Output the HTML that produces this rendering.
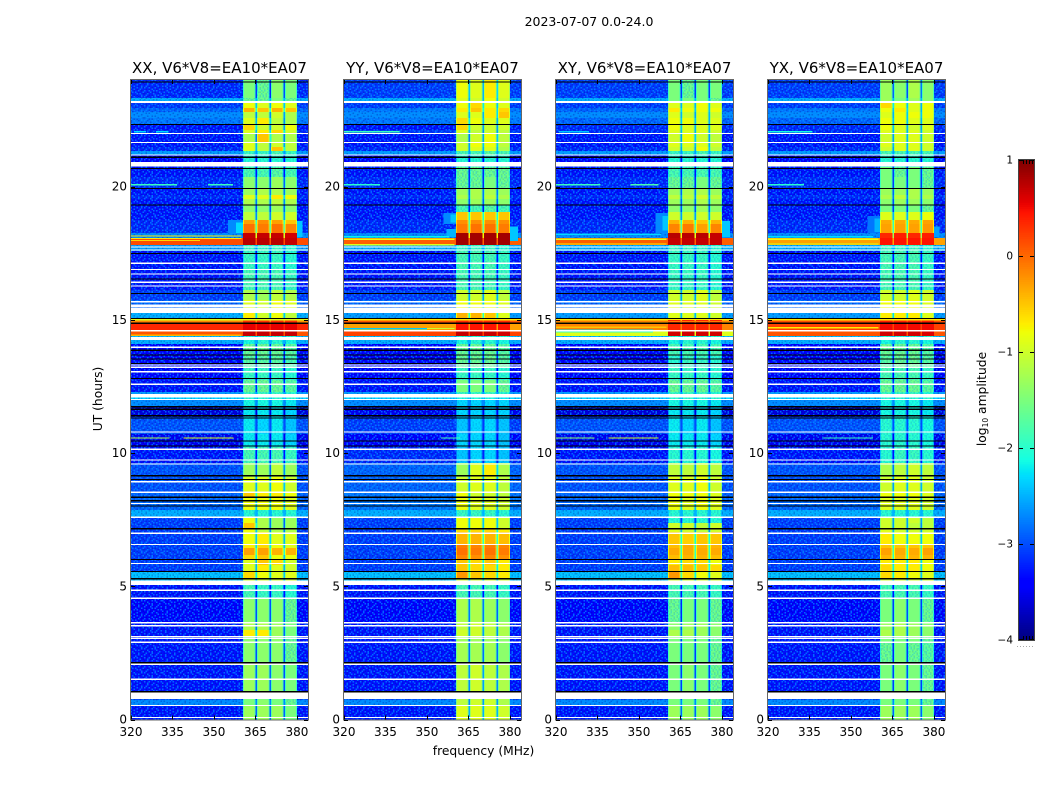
<!DOCTYPE html>
<html lang="en">
<head>
<meta charset="utf-8">
<title>2023-07-07 0.0-24.0 dynamic spectra</title>
<style>
html,body{margin:0;padding:0;background:#fff;width:1050px;height:800px;overflow:hidden}
svg{display:block}
text{font-family:"DejaVu Sans","Liberation Sans",sans-serif;fill:#000}
</style>
</head>
<body>
<svg id="figure" xmlns="http://www.w3.org/2000/svg" width="1050" height="800" viewBox="0 0 1050 800">
  <rect x="0" y="0" width="1050" height="800" fill="#fff"/>
  <defs id="defs"></defs>
  <text x="589" y="26" font-size="12.5" text-anchor="middle">2023-07-07 0.0-24.0</text>
  <text transform="translate(102,399) rotate(-90)" font-size="12.3" text-anchor="middle">UT (hours)</text>
  <text x="483.500" y="755" font-size="12.3" text-anchor="middle">frequency (MHz)</text>
  <text transform="translate(986,399) rotate(-90)" font-size="12.3" text-anchor="middle">log<tspan font-size="7.500" dy="2">10</tspan><tspan dy="-2"> amplitude</tspan></text>
  <g id="panels"></g>
  <g id="colorbar"></g>
</svg>
<script>
// ---- axis data ----
const panelTitles = ["XX, V6*V8=EA10*EA07","YY, V6*V8=EA10*EA07","XY, V6*V8=EA10*EA07","YX, V6*V8=EA10*EA07"];
const xTickValues = [320,335,350,365,380];
const yTickValues = [0,5,10,15,20];
const colorTickValues = [1,0,-1,-2,-3,-4];
// frequency span of each spectral window (MHz)
const channelRanges = [[360.5,364.95],[365.55,370],[370.6,375.05],[375.65,380]];
// time boundaries of the bands (hours, top to bottom)
const bandEdges = [24,23.32,23.13,22.95,22.80,22.57,22.35,22.12,22.01,21.67,
21.48,21.33,21.18,20.92,20.73,20.36,19.94,19.68,19.53,19.31,
19.04,18.74,18.59,18.25,18.07,17.80,17.58,16.87,16.12,15.74,
15.44,15.25,15.07,14.88,14.62,14.39,14.24,14.09,13.64,13.23,
12.74,12.29,12.10,11.99,11.73,11.35,10.71,10.23,9.62,9.10,
8.54,8.31,7.86,7.56,7.37,7.19,7.04,6.59,6.44,6.17,
6.02,5.80,5.53,5.31,5.05,4.56,3.62,3.36,3.10,2.87,
2.12,1.03,0.73,0.51,0];
// flagged (no-data) times shared by all polarisations, hours
const whiteLines = [21.99,21.66,21.18,17.73,17.62,17.12,16.89,16.72,16.41,16.27,15.68,15.55,15.49,14.59,13.97,13.30,13.22,13.05,12.58,12.01,10.79,10.14,9.74,9.59,8.92,8.53,8.11,7.59,6.99,6.57,5.86,4.85,4.55,3.63,3.52,3.11,3.05,2.90,2.07,1.51,0.53,0.08];
const whiteGaps = [[23.13,23.21],[20.75,20.93],[15.26,15.45],[14.24,14.36],[12.09,12.21],[5.05,5.21],[0.77,1.01]];
const blackLines = [23.93,22.33,21.10,20.68,19.93,19.31,17.49,16.53,15.99,15.05,14.87,13.86,13.68,13.53,13.36,12.80,11.74,11.64,11.40,11.31,10.45,10.27,9.15,9.01,8.34,8.21,8.01,7.16,6.01,5.56,5.28,2.13,1.04];
// log10 amplitude per band: [off-band, window1, window2, window3, window4]
const xxRows = [
[-3.2,-1.5,-1.6,-1.4,-1.5],[-2.5,-1.6,-1.6,-1.5,-1.6],[-3.1,-.8,-.9,-.8,-.9],[-2.9,-.4,-.5,-.4,-.5],[-2.7,-1.1,-1.1,-1,-1.2],
[-2.8,-.9,-.7,-1.1,-1.2],[-3.3,-.6,-1,-1,-.8],[-3.2,-.9,-.7,-.6,-1],[-3.3,-1.2,-.5,-1.2,-1.2],[-3.3,-.9,-1.1,-1,-1.1],
[-3.2,-.9,-1.1,-.5,-1.1],[-2.6,-1.9,-1.9,-1.8,-1.9],[-3.4,-2,-2,-2,-2],[-3.2,-2,-2,-2,-2],[-3.3,-1.8,-1.8,-1.7,-1.8],
[-3.2,-1.4,-1.4,-1.3,-1.4],[-3.3,-1.3,-1.2,-1.2,-1.3],[-3.2,-.9,-.9,-.7,-.8],[-3.3,-1.2,-1.2,-1.1,-1.2],[-3.3,-1.4,-1.4,-1.3,-1.4],
[-3.3,-1.1,-1.1,-1,-1],[-3.2,-.3,-.2,-.3,-.5],[-3.2,-.05,-.1,-.05,-.15],[-2.7,.7,.7,.7,.65],[.15,.75,.75,.75,.7],
[-2.6,-1.9,-1.9,-1.9,-2],[-3.3,-1.9,-1.9,-1.9,-2],[-3.3,-1.8,-1.8,-1.8,-1.9],[-3.1,-1.2,-1.3,-1.1,-1.2],[-2.9,-.9,-1,-.8,-.9],
[-2.9,-.9,-1,-.8,-.9],[-2.5,-.7,-1,-.8,-1.1],[-.2,.3,.3,.3,.3],[.35,.55,.55,.55,.55],[.1,.7,.7,.7,.7],
[-2.4,-2,-2,-2,-2],[-2.5,-2.1,-2,-2,-2.1],[-3.4,-1.6,-1.6,-1.6,-1.7],[-3.4,-1.7,-1.7,-1.7,-1.8],[-3.4,-1.9,-1.9,-1.9,-2],
[-3.3,-1.6,-1.6,-1.6,-1.7],[-2.6,-1.9,-1.9,-1.9,-2],[-2.3,-2,-2,-2,-2],[-2.7,-2.1,-2.1,-2.1,-2.2],[-3.6,-2.2,-2.2,-2.2,-2.3],
[-3,-2.2,-2.3,-2.2,-2.4],[-3.5,-2.2,-2.2,-2.2,-2.3],[-3.3,-1.8,-1.8,-1.8,-1.9],[-3,-1.3,-1.3,-1.1,-1.3],[-3,-.9,-.9,-.8,-1],
[-2.9,-.5,-.7,-.7,-.8],[-2.9,-.8,-.8,-.8,-.9],[-2.5,-2,-2,-2,-2],[-3.1,-.8,-1.2,-1.3,-1.3],[-3.1,-.5,-1.2,-1.3,-1.3],
[-3.1,-.8,-1.1,-1.2,-1.2],[-3.1,-.8,-.7,-.9,-.9],[-3.1,-.7,-.6,-.8,-.9],[-3.1,-.3,-.3,-.4,-.4],[-3.1,-.6,-.5,-.8,-.8],
[-3.1,-.9,-.5,-.6,-1],[-3.1,-.9,-.7,-.9,-1],[-2.4,-.6,-.8,-.9,-.9],[-2.4,-1,-1,-1,-1],[-3.3,-1.8,-1.9,-1.9,-2],
[-3.4,-1.4,-1.4,-1.4,-1.6],[-3.3,-1.2,-1.2,-1.3,-1.5],[-3.3,-.7,-.7,-1.3,-1.5],[-3.3,-1.4,-1.4,-1.4,-1.6],[-3.3,-1.4,-1.4,-1.4,-1.6],
[-3.3,-1.3,-1.3,-1.4,-1.5],[-3,-1.5,-1.5,-1.5,-1.6],[-2.7,-1.5,-1.4,-1.5,-1.6],[-3.3,-1.3,-1.3,-1.3,-1.5]];
const yyRows = [
[-3.1,-.8,-.9,-.7,-.9],[-2.5,-.9,-1,-.8,-1],[-3.1,-.8,-.6,-.8,-.9],[-2.8,-.7,-.5,-.7,-.6],[-2.7,-.9,-.9,-.7,-.5],
[-2.8,-.6,-.8,-.9,-.9],[-3.3,-.6,-1,-1,-1],[-3.1,-.9,-1.1,-1,-1.1],[-3.3,-1.2,-1,-.8,-1.1],[-3.3,-1,-.8,-.8,-1.1],
[-3.2,-1,-.9,-.9,-1.2],[-2.6,-1.8,-1.8,-1.7,-1.8],[-3.4,-2,-2,-2,-2],[-3.2,-2,-2,-2,-2],[-3.3,-1.6,-1.6,-1.6,-1.6],
[-3.2,-1.6,-1.6,-1.5,-1.6],[-3.3,-1.3,-1.2,-1.2,-1.3],[-3.2,-1.2,-1.2,-1.1,-1.2],[-3.3,-1.4,-1.3,-1.3,-1.4],[-3.3,-1.8,-1.8,-1.7,-1.8],
[-3.3,-.5,-.5,-.5,-.5],[-3.2,-.2,-.2,-.2,-.2],[-3.2,-.1,-.05,-.05,-.1],[-2.7,.85,.85,.85,.85],[.05,.85,.85,.85,.85],
[-2.5,-1.9,-1.9,-1.9,-2],[-3.3,-1.8,-1.8,-1.8,-1.9],[-3.3,-1.8,-1.8,-1.8,-1.9],[-3.1,-1,-1,-.9,-1.1],[-2.9,-.8,-.8,-.8,-.9],
[-2.9,-.8,-.8,-.8,-.9],[-2.6,-.4,-.4,-.5,-.9],[.1,.35,.35,.35,.35],[-.3,.45,.45,.45,.45],[.2,.7,.7,.7,.65],
[-2.4,-2,-2,-2,-2],[-2.5,-2.1,-2,-2,-2.1],[-3.4,-1.6,-1.6,-1.6,-1.7],[-3.4,-1.6,-1.6,-1.6,-1.7],[-3.4,-1.9,-1.9,-1.9,-2],
[-3.3,-1.5,-1.5,-1.5,-1.6],[-2.6,-1.9,-1.9,-1.9,-2],[-2.3,-2.1,-2.1,-2.1,-2.2],[-2.7,-2.3,-2.3,-2.3,-2.3],[-3.5,-2.3,-2.3,-2.3,-2.3],
[-3.1,-2.4,-2.3,-2.3,-2.4],[-3.4,-2.3,-2.3,-2.3,-2.4],[-3.2,-2.4,-2.3,-2.3,-2.4],[-2.9,-1.3,-.9,-.7,-1.2],[-2.9,-1,-.9,-.9,-1.1],
[-2.8,-.8,-1,-1,-1.1],[-2.8,-.8,-.9,-.9,-1],[-2.5,-1.9,-1.9,-1.9,-2],[-3.1,-.8,-.8,-.8,-1],[-3.1,-.8,-.8,-.8,-1],
[-3.1,-.6,-.6,-.6,-.7],[-3.1,-.4,-.4,-.4,-.45],[-3.1,-.1,-.15,-.1,-.15],[-3.1,-.05,-.1,-.05,-.1],[-3.1,-.15,-.2,-.15,-.2],
[-3.1,-.5,-.6,-.5,-.7],[-3.1,-.5,-.6,-.6,-.7],[-2.4,-.25,-.5,-.6,-.7],[-2.4,-1,-1,-1,-1],[-3.3,-1.8,-1.8,-1.8,-1.9],
[-3.4,-1.2,-1.2,-1.3,-1.4],[-3.3,-1.1,-1,-1.1,-1.2],[-3.3,-1,-1,-1.1,-1.2],[-3.3,-1.3,-1.3,-1.3,-1.4],[-3.3,-1.25,-1.25,-1.25,-1.4],
[-3.3,-1.1,-1,-1.1,-1.2],[-3,-1.1,-1.1,-1.1,-1.2],[-2.7,-1.1,-1,-1,-1.2],[-3.3,-.9,-.9,-.9,-1]];
const xyRows = [
[-3.1,-1.5,-1.6,-1.5,-1.5],[-2.5,-1.5,-1.5,-1.5,-1.6],[-3.1,-.9,-.9,-.8,-.9],[-2.9,-.7,-.8,-.8,-.8],[-2.7,-.9,-1,-.9,-1],
[-2.9,-.8,-.8,-.9,-.9],[-3.2,-.8,-.9,-.9,-.9],[-3.2,-.9,-.9,-.9,-1],[-3.3,-1,-.8,-1,-1.1],[-3.3,-.9,-.9,-.9,-1],
[-3.2,-1,-1,-.8,-1.1],[-2.6,-1.9,-1.9,-1.8,-1.9],[-3.4,-2,-2,-2,-2],[-3.2,-2,-2,-2,-2],[-3.3,-1.8,-1.8,-1.8,-1.8],
[-3.2,-1.6,-1.6,-1.5,-1.6],[-3.3,-1.3,-1.2,-1.2,-1.3],[-3.2,-1.1,-1.1,-1,-1.1],[-3.3,-1.3,-1.3,-1.2,-1.3],[-3.3,-1.4,-1.4,-1.3,-1.4],
[-3.3,-1,-1,-1,-1],[-3.2,-.4,-.4,-.5,-.4],[-3.2,-.15,-.1,-.3,-.15],[-2.7,.75,.75,.75,.7],[.05,.7,.7,.7,.7],
[-2.5,-1.9,-1.9,-1.9,-2],[-3.3,-1.9,-1.9,-1.9,-2],[-3.3,-1.9,-1.9,-1.9,-2],[-3.1,-1,-1,-.9,-1.1],[-2.9,-.9,-.9,-.9,-1],
[-2.9,-.9,-.9,-.9,-1],[-2.6,-.9,-.9,-.9,-1],[-.4,.35,.35,.35,.35],[-.15,.35,.35,.35,.35],[-.9,.65,.65,.65,.65],
[-2.4,-2,-2,-2,-2],[-2.5,-2.1,-2,-2,-2.1],[-3.4,-1.8,-1.8,-1.8,-1.8],[-3.4,-2,-1.9,-1.9,-2],[-3.4,-1.9,-1.9,-1.9,-2],
[-3.3,-1.6,-1.6,-1.6,-1.7],[-2.6,-1.9,-1.9,-1.9,-2],[-2.3,-2,-2,-2,-2],[-2.7,-2.1,-2.1,-2.1,-2.2],[-3.6,-2.2,-2.2,-2.2,-2.3],
[-3,-2.2,-2.3,-2.2,-2.4],[-3.5,-2.2,-2.2,-2.2,-2.3],[-3.3,-2,-2,-2,-2.1],[-3,-1.1,-1.1,-1,-1.1],[-3,-.9,-.9,-.8,-1],
[-2.9,-.8,-.8,-.8,-.9],[-2.9,-.8,-.9,-.8,-.9],[-2.5,-2,-2,-2,-2],[-3.1,-2,-2,-2,-2],[-3.1,-1,-1,-1.1,-1],
[-3.1,-.9,-1,-1.1,-1],[-3.1,-.5,-.55,-.5,-.5],[-3.1,-.45,-.35,-.4,-.4],[-3.1,-.35,-.35,-.35,-.35],[-3.1,-.45,-.4,-.4,-.45],
[-3.1,-.7,-.6,-.6,-.8],[-3.1,-.45,-.45,-.5,-.6],[-2.4,-.25,-.6,-.8,-.9],[-2.4,-1,-1,-1,-1],[-3.3,-1.8,-1.8,-1.8,-1.9],
[-3.4,-1.6,-1.5,-1.5,-1.6],[-3.3,-1.4,-1.3,-1.3,-1.4],[-3.3,-1.2,-1.2,-1.3,-1.4],[-3.3,-1.5,-1.5,-1.5,-1.6],[-3.3,-1.5,-1.5,-1.5,-1.6],
[-3.3,-1.5,-1.4,-1.5,-1.6],[-3,-1.5,-1.5,-1.5,-1.6],[-2.7,-1.5,-1.5,-1.5,-1.6],[-3.3,-1.3,-1.3,-1.3,-1.4]];
const yxRows = [
[-3.1,-1.3,-1.4,-1.2,-1.4],[-2.5,-1.3,-1.5,-1.3,-1.4],[-3.1,-.6,-.8,-.9,-.8],[-2.8,-.8,-.7,-.9,-.8],[-2.7,-.9,-.8,-.8,-.8],
[-2.9,-.8,-.8,-.9,-.9],[-3.2,-.8,-.9,-1,-.9],[-3.2,-.9,-.9,-.9,-1],[-3.3,-1,-.9,-.9,-1],[-3.3,-.9,-.9,-.9,-1],
[-3.2,-1,-.9,-.9,-1],[-2.6,-1.8,-1.8,-1.8,-1.8],[-3.4,-2,-2,-2,-2],[-3.2,-2,-2,-2,-2],[-3.3,-1.5,-1.6,-1.5,-1.6],
[-3.2,-1.5,-1.5,-1.5,-1.6],[-3.3,-1.3,-1.3,-1.2,-1.3],[-3.2,-1.2,-1.1,-1.2,-1.2],[-3.3,-1.4,-1.3,-1.3,-1.4],[-3.3,-1.5,-1.5,-1.5,-1.6],
[-3.3,-.9,-.9,-.9,-.8],[-3.2,-.35,-.35,-.35,-.3],[-3.2,-.3,-.3,-.3,-.25],[-2.7,.35,.4,.35,.4],[-.3,.45,.45,.45,.45],
[-2.5,-1.9,-1.9,-1.9,-2],[-3.3,-1.8,-1.8,-1.8,-1.9],[-3.3,-1.8,-1.8,-1.8,-1.9],[-3.1,-1,-1,-.9,-1],[-2.9,-.8,-.8,-.8,-.9],
[-2.9,-.8,-.8,-.8,-.9],[-2.6,-.7,-.7,-.7,-.9],[.15,.4,.4,.4,.4],[.2,.5,.5,.5,.5],[.1,.65,.65,.65,.6],
[-2.4,-2,-2,-2,-2],[-2.5,-2.1,-2,-2,-2.1],[-3.4,-1.6,-1.6,-1.6,-1.7],[-3.4,-1.7,-1.6,-1.6,-1.7],[-3.4,-1.8,-1.8,-1.8,-1.9],
[-3.3,-1.6,-1.6,-1.6,-1.7],[-2.6,-1.9,-1.9,-1.9,-2],[-2.3,-2,-2,-2,-2],[-2.7,-2.1,-2.1,-2.1,-2.2],[-3.6,-2.1,-2.1,-2.1,-2.2],
[-3,-2,-2,-2,-2.1],[-3.5,-2,-2,-2,-2.1],[-3.3,-2,-1.9,-1.9,-2],[-3,-1.2,-1.1,-1,-1.1],[-3,-1,-.9,-.9,-1],
[-2.9,-.8,-.8,-.8,-.9],[-2.9,-.9,-.9,-.9,-1],[-2.5,-2,-2,-2,-2],[-3.1,-1,-1,-1,-1.1],[-3.1,-1,-1,-1.1,-1.1],
[-3.1,-.9,-1,-1,-1],[-3.1,-.7,-.8,-.8,-.8],[-3.1,-.5,-.5,-.5,-.5],[-3.1,-.3,-.35,-.35,-.3],[-3.1,-.4,-.4,-.4,-.4],
[-3.1,-.7,-.7,-.7,-.8],[-3.1,-.6,-.7,-.7,-.8],[-2.4,-.6,-.7,-.8,-.9],[-2.4,-1,-1,-1,-1],[-3.3,-1.8,-1.8,-1.8,-1.9],
[-3.4,-1.5,-1.4,-1.5,-1.6],[-3.3,-1.3,-1.2,-1.3,-1.4],[-3.3,-1.2,-1.2,-1.3,-1.4],[-3.3,-1.5,-1.5,-1.5,-1.6],[-3.3,-1.6,-1.5,-1.6,-1.7],
[-3.3,-1.5,-1.4,-1.5,-1.6],[-3,-1.5,-1.5,-1.5,-1.6],[-2.7,-1.5,-1.5,-1.5,-1.6],[-3.3,-1.3,-1.3,-1.3,-1.4]];
const panelRows = [xxRows,yyRows,xyRows,yxRows];
// narrow-band interference: [hour, fromMHz, toMHz, log10 amplitude]
const xxStripes = [[20.07,320,336.6,-1.9],[20.07,347.8,356.9,-1.9],[22.06,321,325.5,-2.3],[22.06,329,333.5,-2.3],[10.56,320,334,-1.2],[10.56,339,357,-.9],[18.15,320,360,-.7],[18.05,320,360,-.7],[17.98,320,345,-.6],[15.0,320,384,-.9],[14.92,320,360,-.1],[14.42,320,360,-.4]];
const yyStripes = [[20.07,320,333,-2],[22.06,320,340,-1.9],[10.56,355,362,-1.8],[18.12,320,358,-2.2],[18.02,320,360,-.8],[17.82,320,360,-.9],[15.0,320,384,-.7],[14.67,320,350,-2.4],[14.62,320,350,-2.1],[14.67,350,360,-1]];
const xyStripes = [[20.07,320,336,-1.9],[20.07,347,357,-1.8],[22.06,321,332,-2.4],[10.56,320,334,-1.4],[10.56,339,357,-1],[18.2,320,358,-2.3],[18.02,320,360,-.9],[17.84,320,360,-.7],[15.02,320,384,-.7],[14.94,320,384,-.1],[14.72,320,360,-.5],[14.62,320,355,-2.3],[14.55,320,355,-1.9]];
const yxStripes = [[20.07,320,333,-2],[22.06,320,336,-2.1],[10.56,340,358,-1.9],[18.12,320,358,-2.3],[18.02,320,360,-.8],[17.84,320,360,-.9],[15.0,320,384,-.7],[14.7,320,360,-.7]];
const panelStripes = [xxStripes,yyStripes,xyStripes,yxStripes];
// faint emission just outside the windows: [hour from, hour to, fromMHz, toMHz, log10 amplitude]
const xxGlow = [[18.25,18.75,355,360.5,-2.7],[18.25,18.65,358,360.5,-2.3],[18.1,18.7,380,382,-2.4]];
const yyGlow = [[18.6,19.0,356,360.5,-2.7],[18.65,18.95,358.5,360.5,-2.4],[18.1,18.4,357,360.5,-2.5],[17.95,18.5,380,383,-2.4]];
const xyGlow = [[18.25,19.0,356,360.5,-2.7],[18.35,18.9,358.5,360.5,-2.4],[18.1,18.7,380,383,-2.4]];
const yxGlow = [[18.25,18.9,356,360.5,-2.8],[18.3,18.8,358.5,360.5,-2.5],[18.1,18.5,380,382,-2.6]];
const panelGlow = [xxGlow,yyGlow,xyGlow,yxGlow];
// hand-laid pixel speckle tile: a = brighter pixel, b = darker pixel
const speckleTile = [
"a.b..a.a.b.aa..b.a..b.a.",
".ba.b...a..b.a.b..a.a.b.",
"b..a.ab.b.a...a.ab...b.a",
".a.b.a...a.b.b...a.ba..b",
"a..ba.b.a..a..ab.b..a.b.",
".b...a.a.b..b.a...a.b.a.",
"ab.a..b..a.a...b.a.a..b.",
"..a.b.a.b...ab.a..b..a.b",
"b.a..a..a.b.b..a.b.a.b..",
".a.b...b.a..a.a..a..b.a.",
"a..a.b.a..b..b.ab..a..ab",
".b.b.a..b.a.a....a.b.a..",
"a..a..a.a..b.b.a.b..a.b.",
"..b.ab.b..a..a..a.a.b..a",
"b.a...a..b.ab..b...a.a.b",
".a.b.b.a.a...a.a.b.b..a."];
// ---- layout ----
const panelLefts = [131,344,556,768];
const plotWidth = 177;
const plotTop = 80;
const plotBottom = 719.5;
const freqMin = 320, freqMax = 384, hourMin = 0, hourMax = 24;
const cbarLeft = 1019, cbarRight = 1034, cbarTop = 160, cbarBottom = 640;
const ns = "http://www.w3.org/2000/svg";

function xScale(p, f){ return panelLefts[p] + (f - freqMin) / (freqMax - freqMin) * plotWidth; }
function yScale(h){ return plotBottom - (h - hourMin) / (hourMax - hourMin) * (plotBottom - plotTop); }
function cbarY(v){ return cbarTop + (1 - v) / 5 * (cbarBottom - cbarTop); }
function interp(t, pts){
  for(let i = 1; i < pts.length; i++){
    if(t <= pts[i][0]){
      const a = pts[i-1], b = pts[i];
      return a[1] + (b[1]-a[1]) * (t-a[0]) / (b[0]-a[0]);
    }
  }
  return pts[pts.length-1][1];
}
function jet(v){
  const t = Math.max(0, Math.min(1, (v + 4) / 5));
  const r = interp(t, [[0,0],[.35,0],[.66,1],[.89,1],[1,.5]]);
  const g = interp(t, [[0,0],[.125,0],[.375,1],[.64,1],[.91,0],[1,0]]);
  const b = interp(t, [[0,.5],[.11,1],[.34,1],[.65,0],[1,0]]);
  return "rgb(" + Math.round(r*255) + "," + Math.round(g*255) + "," + Math.round(b*255) + ")";
}
function makeRect(parent, x, y, w, h, fill){
  const el = document.createElementNS(ns, "rect");
  el.setAttribute("x", x.toFixed(2));
  el.setAttribute("y", y.toFixed(2));
  el.setAttribute("width", Math.max(w, 0).toFixed(2));
  el.setAttribute("height", Math.max(h, 0).toFixed(2));
  el.setAttribute("fill", fill);
  parent.appendChild(el);
  return el;
}
function makeLine(parent, x1, y1, x2, y2, stroke){
  const el = document.createElementNS(ns, "line");
  el.setAttribute("x1", x1);
  el.setAttribute("y1", y1);
  el.setAttribute("x2", x2);
  el.setAttribute("y2", y2);
  el.setAttribute("stroke", stroke);
  el.setAttribute("stroke-width", "1");
  parent.appendChild(el);
  return el;
}
function makeText(parent, x, y, str, size, anchor){
  const el = document.createElementNS(ns, "text");
  el.setAttribute("x", x);
  el.setAttribute("y", y);
  el.setAttribute("font-size", size);
  el.setAttribute("text-anchor", anchor);
  el.textContent = str;
  parent.appendChild(el);
  return el;
}

// speckle pattern
(function(){
  const defs = document.getElementById("defs");
  const pat = document.createElementNS(ns, "pattern");
  pat.setAttribute("id", "speckle");
  pat.setAttribute("patternUnits", "userSpaceOnUse");
  const cw = 1.5, ch = 1.5;
  pat.setAttribute("width", speckleTile[0].length * cw);
  pat.setAttribute("height", speckleTile.length * ch);
  speckleTile.forEach(function(row, r){
    row.split("").forEach(function(c, k){
      if(c === ".") return;
      const cell = makeRect(pat, k*cw, r*ch, cw, ch, c === "a" ? "#0098ff" : "#000088");
      cell.setAttribute("fill-opacity", c === "a" ? "0.65" : "0.25");
    });
  });
  defs.appendChild(pat);
})();

function drawPanel(p){
  const root = document.getElementById("panels");
  const g = document.createElementNS(ns, "g");
  
  
  g.setAttribute("shape-rendering", "crispEdges");
  root.appendChild(g);
  const x0 = panelLefts[p], x1 = x0 + plotWidth;
  const rows = panelRows[p];
  const clipId = "clip" + p;
  const clip = document.createElementNS(ns, "clipPath");
  clip.setAttribute("id", clipId);
  makeRect(clip, x0, plotTop, plotWidth, plotBottom - plotTop, "#000");
  document.getElementById("defs").appendChild(clip);
  g.setAttribute("clip-path", "url(#" + clipId + ")");

  for(let i = 0; i < bandEdges.length - 1; i++){
    const row = rows[i];
    if(!row) continue;
    const yT = yScale(bandEdges[i]);
    const yB = yScale(bandEdges[i+1]);
    const h = yB - yT;
    const off = row[0];
    // off-band regions on both sides of the windows
    const xA = xScale(p, channelRanges[0][0]);
    const xB = xScale(p, channelRanges[3][1]);
    const left = makeRect(g, x0, yT, xA - x0, h, jet(off));
    
    
    const right = makeRect(g, xB, yT, x1 - xB, h, jet(off));
    
    
    if(off < -1.9){
      const sL = makeRect(g, x0, yT, xA - x0, h, "url(#speckle)");
      
      
      const sR = makeRect(g, xB, yT, x1 - xB, h, "url(#speckle)");
      
      
    }
    // spectral windows and the gaps between them
    channelRanges.forEach(function(rng, c){
      const v = row[c+1];
      const cx0 = xScale(p, rng[0]), cx1 = xScale(p, rng[1]);
      const cell = makeRect(g, cx0, yT, cx1 - cx0, h, jet(v));
      
      
      if(v < 0){
        const edgeL = makeRect(g, cx0, yT, 1, h, jet(v - 0.4));
        
        
        const edgeR = makeRect(g, cx1 - 1, yT, 1, h, jet(v - 0.4));
        
        
      }
      if(v < -1.55){
        const sp = makeRect(g, cx0, yT, cx1 - cx0, h, "url(#speckle)");
        sp.setAttribute("fill-opacity", "0.45");
        
        
      }
      if(c < channelRanges.length - 1){
        const gx0 = cx1, gx1 = xScale(p, channelRanges[c+1][0]);
        const gapV = Math.max(off, v - 1.6);
        const gap = makeRect(g, gx0, yT, gx1 - gx0, h, jet(gapV));
        
        
      }
    });
  }
  panelGlow[p].forEach(function(d){
    const yT = yScale(d[1]), yB = yScale(d[0]);
    const el = makeRect(g, xScale(p, d[2]), yT, xScale(p, d[3]) - xScale(p, d[2]), yB - yT, jet(d[4]));
    
    
  });
  panelStripes[p].forEach(function(d){
    const el = makeRect(g, xScale(p, d[1]), yScale(d[0]) - 0.6, xScale(p, d[2]) - xScale(p, d[1]), 1.2, jet(d[3]));
    
    
  });
  blackLines.forEach(function(hr){
    const el = makeRect(g, x0, yScale(hr) - 0.6, plotWidth, 1.2, "#000");
    
    
  });
  whiteLines.forEach(function(hr){
    const el = makeRect(g, x0, yScale(hr) - 0.6, plotWidth, 1.2, "#fff");
    
    
  });
  whiteGaps.forEach(function(d){
    const el = makeRect(g, x0, yScale(d[1]), plotWidth, yScale(d[0]) - yScale(d[1]), "#fff");
    
    
  });

  // frame, ticks and labels sit above the clipped image
  const axes = document.createElementNS(ns, "g");
  
  
  root.appendChild(axes);
  const frame = makeRect(axes, x0 - 0.5, plotTop - 0.5, plotWidth + 1, plotBottom - plotTop + 1, "none");
  frame.setAttribute("stroke", "#666");
  frame.setAttribute("stroke-width", "1");
  
  
  xTickValues.forEach(function(f){
    const x = Math.round(xScale(p, f)) + 0.5;
    const tb = makeLine(axes, x, plotBottom, x, plotBottom - 4, "#000");
    
    
    const tt = makeLine(axes, x, plotTop, x, plotTop + 4, "#000");
    
    
    const lab = makeText(axes, xScale(p, f), 736, String(f), 12, "middle");
    
    
  });
  yTickValues.forEach(function(hr){
    const y = Math.round(yScale(hr)) + 0.5;
    const tl = makeLine(axes, x0, y, x0 + 4, y, "#000");
    
    
    const tr = makeLine(axes, x1, y, x1 - 4, y, "#000");
    
    
    const lab = makeText(axes, x0 - 4, yScale(hr) + 4, String(hr), 12, "end");
    
    
  });
  const title = makeText(axes, x0 + plotWidth/2, 73, panelTitles[p], 15, "middle");
  
  
}

function drawColorbar(){
  const g = document.getElementById("colorbar");
  const levels = 256;
  const strip = document.createElementNS(ns, "g");
  strip.setAttribute("shape-rendering", "crispEdges");
  
  
  g.appendChild(strip);
  for(let i = 0; i < levels; i++){
    const vTop = 1 - 5 * i / levels;
    const vBot = 1 - 5 * (i+1) / levels;
    const y0 = cbarY(vTop), y1 = cbarY(vBot);
    makeRect(strip, cbarLeft, y0, cbarRight - cbarLeft, y1 - y0 + 0.6, jet((vTop + vBot) / 2));
  }
  const frame = makeRect(g, cbarLeft - 0.5, cbarTop - 0.5, cbarRight - cbarLeft + 1, cbarBottom - cbarTop + 1, "none");
  frame.setAttribute("stroke", "#444");
  frame.setAttribute("stroke-width", "1");
  
  
  colorTickValues.forEach(function(v){
    const y = cbarY(v);
    const ry = Math.min(Math.round(y) + 0.5, cbarBottom - 0.5);
    const a = makeLine(g, cbarLeft, ry, cbarLeft + 4, ry, "#000");
    
    
    const b = makeLine(g, cbarRight, ry, cbarRight - 4, ry, "#000");
    
    
    const lab = makeText(g, 1013, y + 3.5, String(v).replace("-", "\u2212"), 10.5, "end");
    
    
  });
  [1023,1026,1029,1032].forEach(function(x){
    const t = makeLine(g, x + 0.5, cbarTop, x + 0.5, cbarTop + 4, "#000");
    
    
    const u = makeLine(g, x + 0.5, cbarBottom, x + 0.5, cbarBottom - 4, "#000");
    
    
  });
  const dots = makeLine(g, 1017, 646.5, 1035, 646.5, "#aaa");
  dots.setAttribute("stroke-dasharray", "1 2");
  
  
}

panelTitles.forEach(function(_, p){ drawPanel(p); });
drawColorbar();
</script>
</body>
</html>
